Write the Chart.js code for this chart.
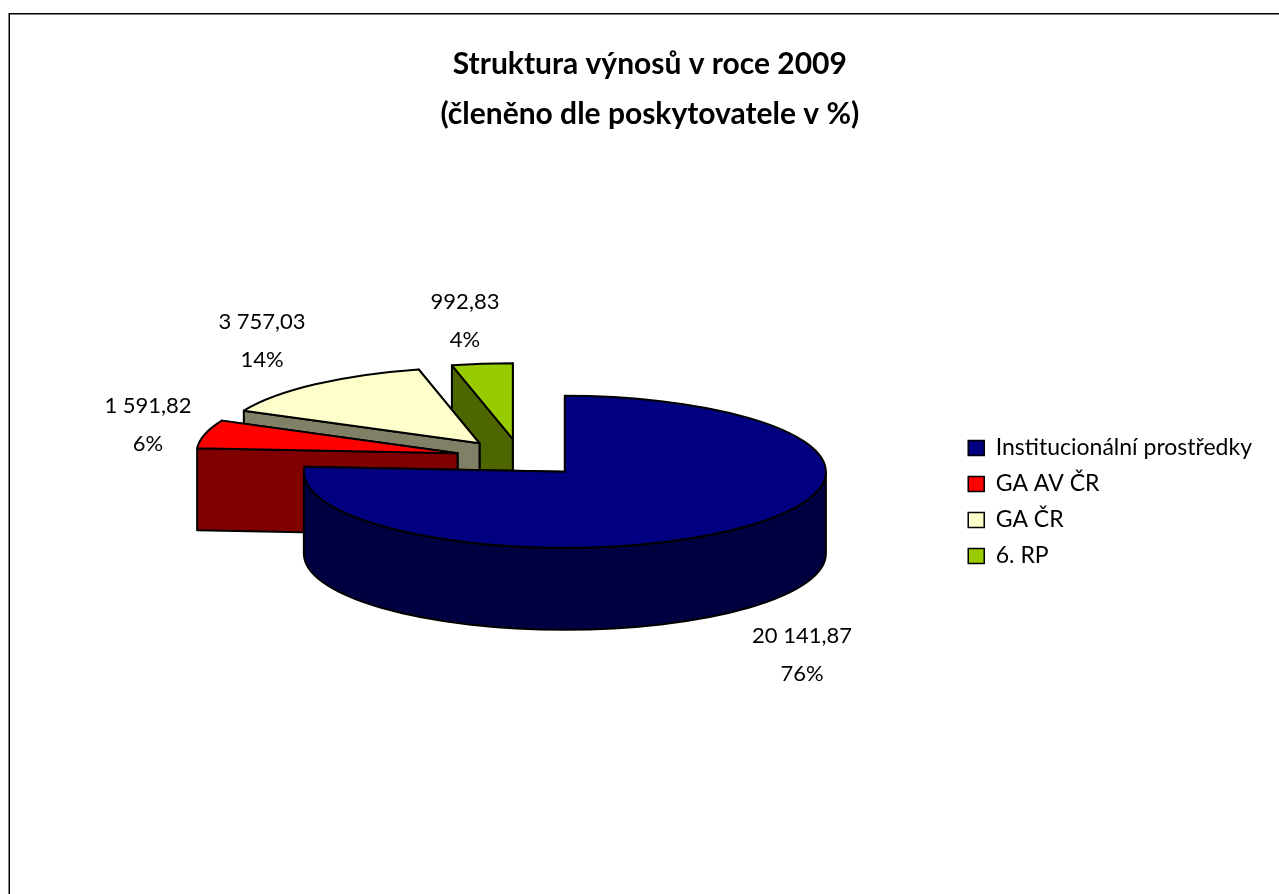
<!DOCTYPE html>
<html lang="cs">
<head>
    <meta charset="UTF-8">
    <title>Struktura výnosů v roce 2009</title>
    <script src="https://cdn.jsdelivr.net/npm/chart.js"></script>
    <style>
        html, body { margin: 0; padding: 0; background: #fff; }
        canvas { display: block; }
    </style>
</head>
<body>
    <canvas id="pieChart" width="1279" height="894"></canvas>
    <script>
        const categories = ['Institucionální prostředky', 'GA AV ČR', 'GA ČR', '6. RP'];
        const values = [20141.87, 1591.82, 3757.03, 992.83];
        const titleLines = ['Struktura výnosů v roce 2009', '(členěno dle poskytovatele v %)'];

        const topColors = ['#000080', '#ff0000', '#ffffcc', '#99cc00'];
        const sideColors = ['#000040', '#800000', '#808066', '#4d6600'];

        const FONT = 'Lato, Carlito, sans-serif';
        const TILT = 0.291;   // how much the circle is squashed
        const DEPTH = 82;     // height of the pie wall in px
        // centre of each data label, px
        const labelSpots = [[802, 655], [148, 425], [262, 341], [465, 321]];

        const total = values.reduce((a, b) => a + b, 0);

        function formatValue(v) {
            return v.toFixed(2).replace('.', ',').replace(/\B(?=(\d{3})+(?!\d))/g, ' ');
        }

        function drawWall(ctx, x1, y1, x2, y2) {
            ctx.beginPath();
            ctx.moveTo(x1, y1);
            ctx.lineTo(x2, y2);
            ctx.lineTo(x2, y2 + DEPTH);
            ctx.lineTo(x1, y1 + DEPTH);
            ctx.closePath();
            ctx.fill();
            ctx.stroke();
        }

        function drawSlice(ctx, arc, i) {
            const { x, y, startAngle, endAngle, outerRadius: r } = arc.getProps(['x', 'y', 'startAngle', 'endAngle', 'outerRadius']);
            const mid = (startAngle + endAngle) / 2;
            const ax = x + Math.cos(mid) * arc.options.offset;
            const ay = y + Math.sin(mid) * arc.options.offset * TILT;

            ctx.lineWidth = 2;
            ctx.lineJoin = 'round';
            ctx.strokeStyle = '#000';

            // straight walls, the one further back first
            ctx.fillStyle = sideColors[i];
            [startAngle, endAngle]
                .sort((a, b) => Math.sin(a) - Math.sin(b))
                .forEach(a => drawWall(ctx, ax, ay, ax + Math.cos(a) * r, ay + Math.sin(a) * r * TILT));

            // round wall, only the part that faces us
            const from = Math.max(startAngle, 0);
            const to = Math.min(endAngle, Math.PI);
            if (to > from) {
                ctx.beginPath();
                ctx.ellipse(ax, ay, r, r * TILT, 0, from, to);
                ctx.ellipse(ax, ay + DEPTH, r, r * TILT, 0, to, from, true);
                ctx.closePath();
                ctx.fill();
                ctx.stroke();
            }

            // top face
            ctx.fillStyle = topColors[i];
            ctx.beginPath();
            ctx.moveTo(ax, ay);
            ctx.ellipse(ax, ay, r, r * TILT, 0, startAngle, endAngle);
            ctx.closePath();
            ctx.fill();
            ctx.stroke();
        }

        const pie3d = {
            id: 'pie3d',
            afterLayout(chart) {
                // title and legend do not sit centred on the pie
                chart.titleBlock.left -= 24;
                chart.titleBlock.right -= 24;
                chart.legend.top += 114;
                chart.legend.bottom += 114;
            },
            beforeDraw(chart) {
                const ctx = chart.ctx;
                ctx.save();
                ctx.strokeStyle = '#000';
                ctx.lineWidth = 1.5;
                ctx.beginPath();
                ctx.moveTo(9.25, 894);
                ctx.lineTo(9.25, 13.75);
                ctx.lineTo(1279, 13.75);
                ctx.stroke();
                ctx.restore();
            },
            beforeDatasetsDraw(chart) {
                const ctx = chart.ctx;
                const arcs = chart.getDatasetMeta(0).data;
                ctx.save();
                // back to front: 6. RP, GA ČR, GA AV ČR, Institucionální
                for (let i = arcs.length - 1; i >= 0; i--) {
                    drawSlice(ctx, arcs[i], i);
                }
                ctx.restore();
                return false;
            },
            afterDraw(chart) {
                const ctx = chart.ctx;
                ctx.save();
                ctx.fillStyle = '#000';
                ctx.font = '22px ' + FONT;
                ctx.textAlign = 'center';
                ctx.textBaseline = 'middle';
                values.forEach((v, i) => {
                    const [lx, ly] = labelSpots[i];
                    ctx.fillText(formatValue(v), lx, ly - 19);
                    ctx.fillText(Math.round(v / total * 100) + '%', lx, ly + 19);
                });
                ctx.restore();
            }
        };

        new Chart(document.getElementById('pieChart'), {
            type: 'pie',
            data: {
                labels: categories,
                datasets: [{
                    data: values,
                    backgroundColor: topColors,
                    borderColor: '#000',
                    borderWidth: 1.5,
                    offset: 65,
                    radius: 261
                }]
            },
            options: {
                responsive: false,
                animation: false,
                layout: { padding: { left: 85.7, right: 17, top: 0, bottom: 118 } },
                plugins: {
                    title: {
                        display: true,
                        text: titleLines,
                        color: '#000',
                        font: { family: FONT, size: 30, weight: 'bold', lineHeight: 1.667 },
                        padding: { top: 39, bottom: 1 }
                    },
                    legend: {
                        position: 'right',
                        labels: {
                            color: '#000',
                            font: { family: FONT, size: 23 },
                            boxWidth: 16,
                            boxHeight: 15,
                            padding: 13
                        }
                    },
                    tooltip: { enabled: false }
                }
            },
            plugins: [pie3d]
        });
    </script>
</body>
</html>
